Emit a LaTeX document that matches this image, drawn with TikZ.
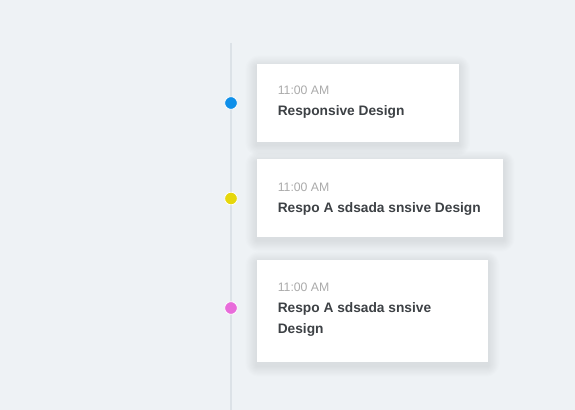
\documentclass[tikz,border=0pt]{standalone}
\usepackage{fontspec}
\setmainfont{Liberation Sans}
\usepackage{xcolor}
\usetikzlibrary{calc}
\definecolor{pagebg}{HTML}{EEF2F5}
\definecolor{railgrey}{HTML}{DCE2E7}
\definecolor{timegrey}{HTML}{ABABAB}
\definecolor{titlegrey}{HTML}{3D4145}
\definecolor{dotblue}{HTML}{0E8FE9}
\definecolor{dotyellow}{HTML}{E6D70C}
\definecolor{dotpink}{HTML}{E86CDA}
\pgfdeclarelayer{paper}
\pgfdeclarelayer{shade}
\pgfsetlayers{paper,shade,main}
\tikzset{
	rail/.style={draw=railgrey, line width=1.6pt},
	dot/.style={circle, fill=#1, draw=white, line width=0.6pt, inner sep=0pt, minimum size=9.5pt},
	card/.style={fill=white, draw=none, anchor=north west, inner sep=0pt},
	shadelayer/.style={fill=black, opacity=0.006, rounded corners=#1},
	stamp/.style={anchor=base west, inner sep=0pt, text=timegrey, font=\fontsize{9.2}{10}\selectfont},
	headline/.style={anchor=base west, inner sep=0pt, text=titlegrey, align=left,
			font=\fontsize{10.3}{15.75}\selectfont\bfseries}
}
\newcommand\cardshade[1]{%
	\begin{pgfonlayer}{shade}
		\foreach \k in {1,...,10} {
			\fill[shadelayer=\k pt] ($(#1.south west)+(-\k*1.1,-3-\k*1.1)$) rectangle ($(#1.north east)+(\k*1.1,-3+\k*1.1)$);
		}
	\end{pgfonlayer}}

\begin{document}
\begin{tikzpicture}[x=0.75pt, y=0.75pt]
			\begin{pgfonlayer}{paper}
				\fill[pagebg] (0,0) rectangle (575,-410);
			\end{pgfonlayer}
			\useasboundingbox (0,0) rectangle (575,-410);

			\coordinate (railtop) at (231,-43);
			\coordinate (railend) at (231,-410);
			\draw[rail] (railtop) -- (railend);

			% cards
			\node[card, minimum width=151.5pt, minimum height=58.5pt] (cardA) at (256.5,-63.5) {};
			\node[card, minimum width=185pt, minimum height=58.5pt] (cardB) at (256.5,-159) {};
			\node[card, minimum width=173.5pt, minimum height=77pt] (cardC) at (256.5,-259.5) {};
			\cardshade{cardA}
			\cardshade{cardB}
			\cardshade{cardC}

			\foreach \n/\y/\c in {A/103/dotblue, B/198.5/dotyellow, C/308/dotpink} {
				\node[dot=\c] (dot\n) at (231,-\y) {};
			}

			\node[stamp] (timeA) at (277.5,-95) {11:00 AM};
			\node[headline] (titleA) at (277.5,-116) {Responsive Design};

			\node[stamp] (timeB) at (277.5,-191) {11:00 AM};
			\node[headline] (titleB) at (277.5,-212) {Respo A sdsada snsive Design};

			\node[stamp] (timeC) at (277.5,-291) {11:00 AM};
			\node[headline] (titleC) at (277.5,-333.5) {Respo A sdsada snsive\\Design};
		\end{tikzpicture}
\end{document}
